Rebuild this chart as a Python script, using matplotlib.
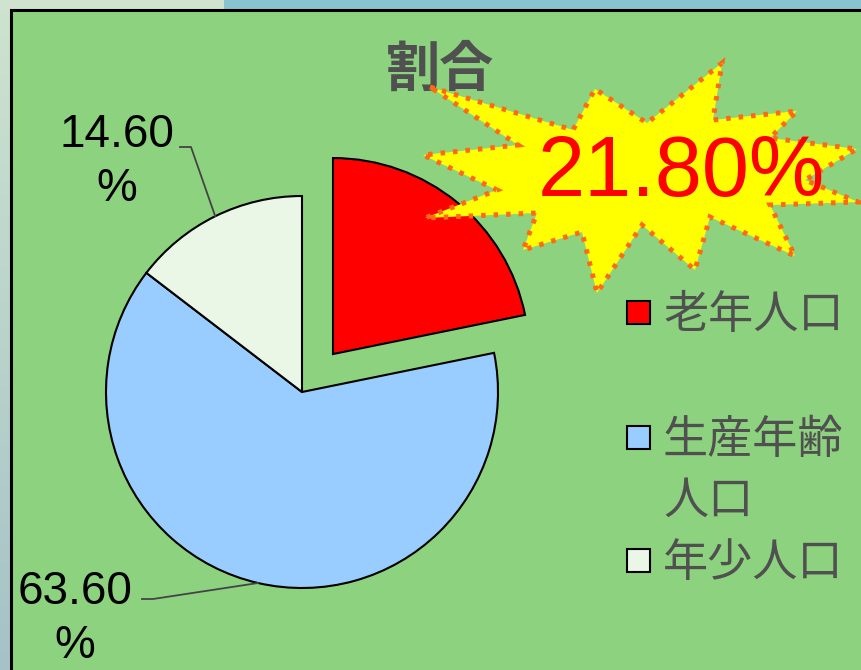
import numpy as np
import matplotlib
matplotlib.use('Agg')
from matplotlib import pyplot as plt
from matplotlib.patches import Rectangle, Polygon
from matplotlib.transforms import Affine2D

# data
categories = ['老年人口', '生産年齢\n人口', '年少人口']
shares = [21.8, 63.6, 14.6]
colors = ['#ff0000', '#99ccff', '#eaf6e6']
explode = [0.25, 0, 0]
title = '割合'

W, H = 861, 670
fig = plt.figure(figsize=(W / 100, H / 100), dpi=100)
fig.patch.set_facecolor('#cfe3cf')
# pixel coords, origin top-left
pix = Affine2D().scale(1 / W, -1 / H).translate(0, 1) + fig.transFigure

cjk = ['Noto Sans CJK JP', 'DejaVu Sans']
num = ['Liberation Sans', 'DejaVu Sans']

# background strips and frame
fig.add_artist(Rectangle((224, 0), W - 224, 10, transform=pix, fc='#88c4d0', ec='none', zorder=0))
gax = fig.add_axes([0, 0, 11 / W, 1 - 10 / H])
gax.imshow(np.linspace(0, 1, 100).reshape(-1, 1), aspect='auto',
           cmap=matplotlib.colors.LinearSegmentedColormap.from_list('g', ['#cde3cf', '#a6c2c8']))
gax.axis('off')
fig.add_artist(Rectangle((10.5, 10), W, H, transform=pix, fc='#8dd37f', ec='black', lw=2.2, zorder=1))

# pie (unit radius = 196 px, centre at 302, 392 px)
R, CX, CY = 196, 302, 392
ax = fig.add_axes([0, 0, 1, 1])
ax.set_facecolor('none')
ax.set_zorder(2)
wedges, _ = ax.pie(shares, colors=colors, explode=explode, startangle=90, counterclock=False,
                   radius=1, wedgeprops=dict(edgecolor='black', linewidth=1.5, clip_on=False))
ax.set_xlim(-CX / R, (W - CX) / R)
ax.set_ylim(-(H - CY) / R, CY / R)
ax.set_aspect('equal')
ax.axis('off')

to_pix = ax.transData + pix.inverted()


def edge_mid(w):
    t = np.deg2rad((w.theta1 + w.theta2) / 2)
    return to_pix.transform((w.center[0] + w.r * np.cos(t), w.center[1] + w.r * np.sin(t)))


# percentage labels with leader lines (x, baseline of last line, leader start x, leader y)
for i, (tx, ty, lx, yy) in {2: (117, 201, 180, 147), 1: (75, 658, 142, 599)}.items():
    ax.text(tx, ty, f'{shares[i]:.2f}\n%', transform=pix, ha='center', va='baseline',
            fontsize=33, family=num, color='black', linespacing=1.3)
    ex, ey = edge_mid(wedges[i])
    ax.plot([lx, lx + 11, ex], [yy, yy, ey], transform=pix, color='#444444', lw=1.3, clip_on=False)

# title
ax.text(440, 70, title, transform=pix, ha='center', va='center', fontsize=39,
        fontweight='bold', family=cjk, color='#505050')

# starburst callout for the red slice
star = [(430, 87), (573, 130), (595, 89), (647, 123), (722, 63), (713, 120), (797, 111),
        (770, 138), (857, 149), (805, 180), (858, 202), (770, 205), (795, 256), (710, 217),
        (695, 270), (642, 225), (597, 293), (582, 232), (523, 250), (537, 213), (425, 218),
        (497, 190), (423, 155), (518, 145)]
ax.add_artist(Polygon(star, closed=True, transform=pix, fc='#ffff00', ec='#ff6a10', lw=3.6,
                      linestyle=(0, (0.9, 1.6)), capstyle='butt', clip_on=False, zorder=3))
ax.text(681, 174, f'{shares[0]:.2f}%', transform=pix, ha='center', va='center',
        fontsize=61, family=num, color='#ff0000', zorder=4)

# legend
leg_y = [313, 438, 561]
for lab, c, y in zip(categories, colors, leg_y):
    ax.add_artist(Rectangle((627, y - 12), 23, 23, transform=pix, fc=c, ec='black', lw=1.5,
                            clip_on=False, zorder=3))
    ax.text(663, y - 21, lab, transform=pix, ha='left', va='top', fontsize=32.5,
            family=cjk, color='#505050', linespacing=1.4)

plt.savefig('out.png', dpi=100)
